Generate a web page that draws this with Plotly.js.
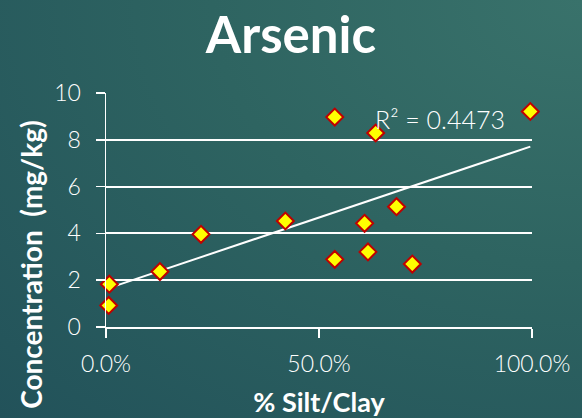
<!DOCTYPE html>
<html>
<head>
<meta charset="utf-8">
<script src="https://cdn.plot.ly/plotly-3.0.1.min.js"></script>
<style>
  html, body { margin: 0; padding: 0; }
  body {
    width: 582px; height: 418px; overflow: hidden;
    background: radial-gradient(ellipse at 100% 0%, #39726b 0%, #2e6461 45%, #22525a 100%);
  }
  #chart { width: 582px; height: 418px; }
</style>
</head>
<body>
<div id="chart"></div>
<script>
// Data
const siltClay = [0.0078, 0.0063, 0.1266, 0.223, 0.421, 0.537, 0.537, 0.633, 0.607, 0.615, 0.682, 0.719, 0.996];
const arsenic  = [1.83, 0.92, 2.37, 3.96, 4.53, 8.97, 2.89, 8.29, 4.43, 3.21, 5.14, 2.69, 9.21];
const xTickVals = [0, 0.5, 1];
const yTickVals = [0, 2, 4, 6, 8, 10];
const titleText = 'Arsenic';
const xTitle = '% Silt/Clay';
const yTitle = 'Concentration  (mg/kg)';
const r2Text = 'R² = 0.4473';

// Linear least-squares trendline (as Excel draws it)
const n = siltClay.length;
const mx = siltClay.reduce((a, b) => a + b, 0) / n;
const my = arsenic.reduce((a, b) => a + b, 0) / n;
let sxy = 0, sxx = 0;
for (let i = 0; i < n; i++) {
  sxy += (siltClay[i] - mx) * (arsenic[i] - my);
  sxx += (siltClay[i] - mx) * (siltClay[i] - mx);
}
const slope = sxy / sxx;
const intercept = my - slope * mx;
const xMin = Math.min(...siltClay), xMax = Math.max(...siltClay);
const trendX = [xMin, xMax];
const trendY = trendX.map(x => intercept + slope * x);

const FONT = 'Lato, "Open Sans", sans-serif';

const traces = [
  {
    x: trendX, y: trendY, type: 'scatter', mode: 'lines',
    line: { color: '#ffffff', width: 2 },
    hoverinfo: 'skip', showlegend: false
  },
  {
    x: siltClay, y: arsenic, type: 'scatter', mode: 'markers',
    marker: { symbol: 'diamond', size: 13, color: '#ffff00', line: { color: '#c00000', width: 2 } },
    cliponaxis: false, showlegend: false
  }
];

const layout = {
  width: 582, height: 418,
  paper_bgcolor: 'rgba(0,0,0,0)',
  plot_bgcolor: 'rgba(0,0,0,0)',
  margin: { l: 106, r: 50, t: 93, b: 91, pad: 0 },
  font: { family: FONT, color: '#ffffff' },
  title: {
    text: titleText,
    font: { family: FONT, size: 51, color: '#ffffff', weight: 'bold' },
    x: 0.5, xref: 'container', xanchor: 'center',
    y: 0.915, yref: 'container', yanchor: 'middle'
  },
  xaxis: {
    range: [0, 1],
    tickvals: xTickVals,
    tickformat: '.1%',
    showgrid: false, zeroline: false,
    showline: true, linecolor: '#ffffff', linewidth: 1.5,
    ticks: 'outside', ticklen: 9, tickwidth: 1.5, tickcolor: '#ffffff',
    tickfont: { family: FONT, size: 23, color: '#ffffff', weight: 300 },
    ticklabelstandoff: 7,
    title: {
      text: xTitle,
      font: { family: FONT, size: 27, color: '#ffffff', weight: 'bold' },
      standoff: 17
    }
  },
  yaxis: {
    range: [0, 10],
    tickvals: yTickVals,
    showgrid: true, gridcolor: '#ffffff', gridwidth: 2,
    zeroline: false,
    showline: true, linecolor: '#ffffff', linewidth: 1.5,
    ticks: 'outside', ticklen: 9, tickwidth: 1.5, tickcolor: '#ffffff',
    tickfont: { family: FONT, size: 23, color: '#ffffff', weight: 300 },
    ticklabelstandoff: 10
  },
  annotations: [
    {
      text: yTitle, textangle: -90,
      xref: 'paper', yref: 'paper',
      x: -0.176, y: 0.266, xanchor: 'center', yanchor: 'middle',
      showarrow: false,
      font: { family: FONT, size: 28, color: '#ffffff', weight: 'bold' }
    },
    {
      text: r2Text,
      xref: 'x', yref: 'y',
      x: 0.783, y: 8.9, xanchor: 'center', yanchor: 'middle',
      showarrow: false,
      font: { family: FONT, size: 25, color: '#ffffff', weight: 300 }
    }
  ]
};

Plotly.newPlot('chart', traces, layout, { displayModeBar: false, staticPlot: true });
</script>
</body>
</html>
